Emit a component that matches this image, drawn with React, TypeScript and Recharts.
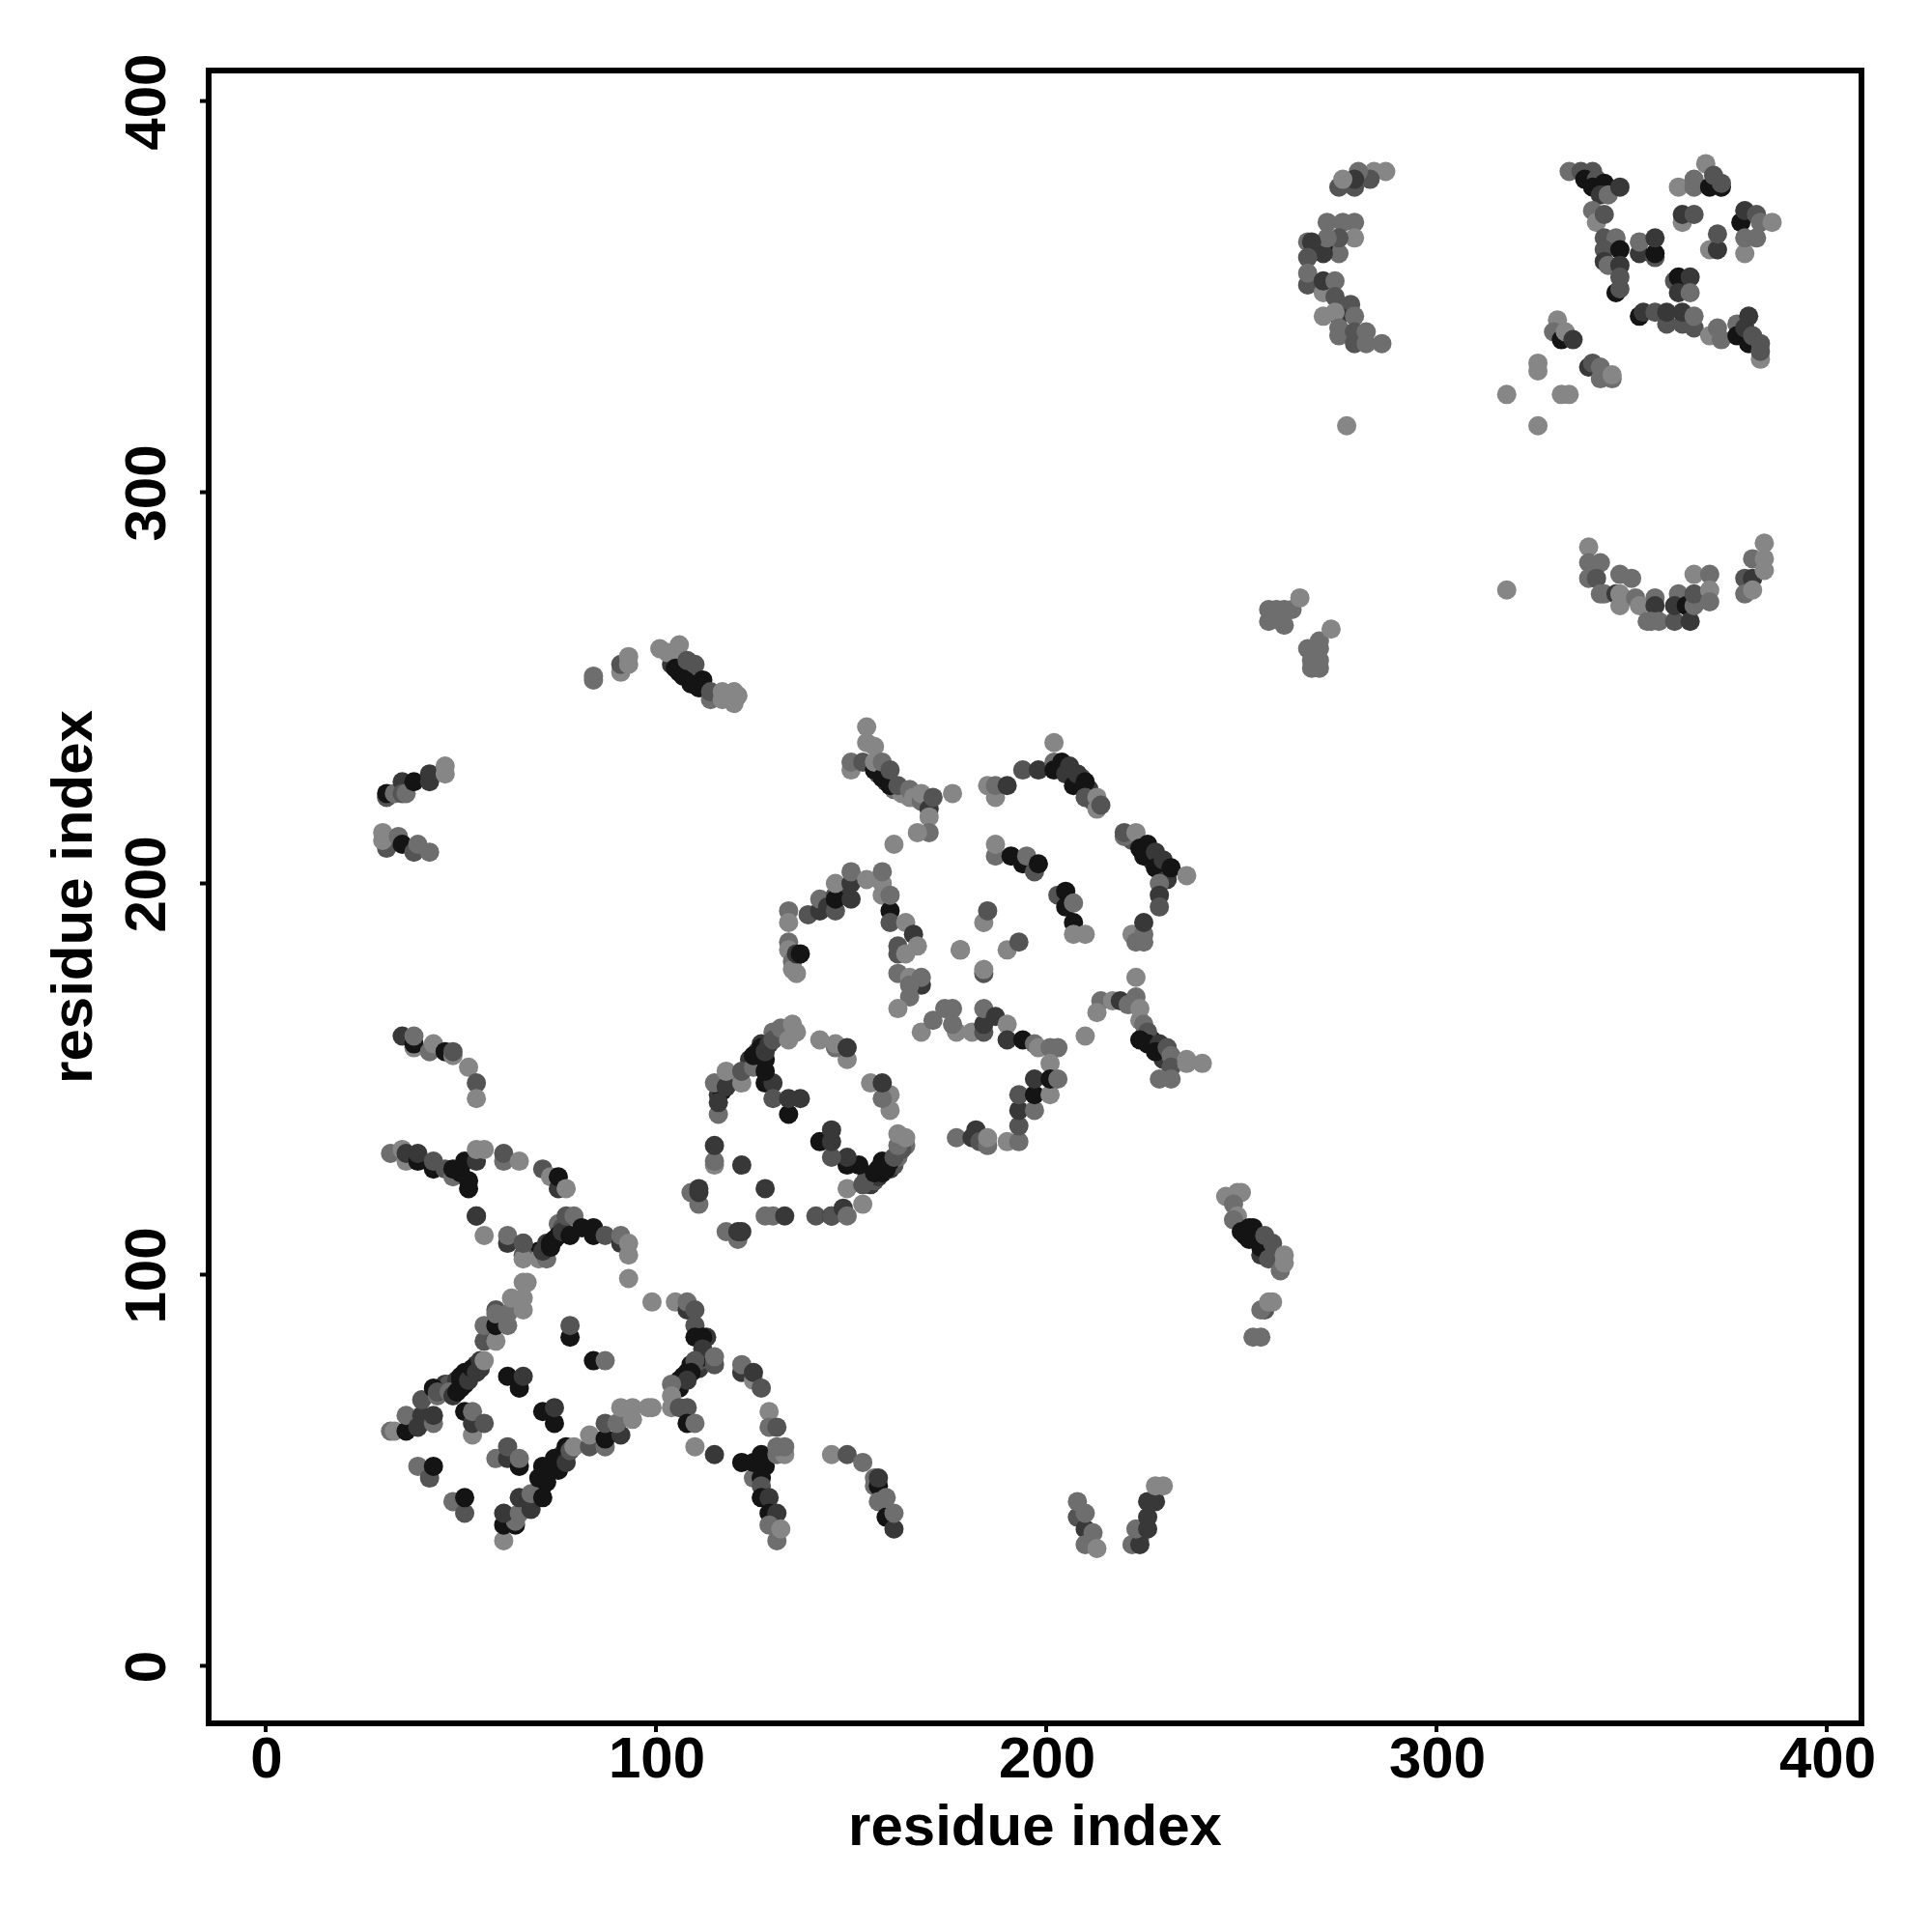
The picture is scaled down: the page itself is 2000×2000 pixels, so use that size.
import { ScatterChart, Scatter, XAxis, YAxis, ReferenceArea } from "recharts";

// each point is [residue x, residue y, contact level 0 (strong) .. 4 (weak)]
type Contact = [number, number, number];

const TICKS = [0, 100, 200, 300, 400];
const X_RANGE = [-14.6, 408.9];
const Y_RANGE = [-14.7, 407.8];
const LEVEL_COLORS = ["#141414", "#383838", "#545454", "#6e6e6e", "#868686"];

// tightly packed contacts along the dark bands, painted first
const denseBands: Contact[] = [
  [116, 146, 1], [117, 147, 0], [120, 150, 3], [124, 155, 1], [126, 157, 2], [127, 159, 1], [131, 161, 2], [130, 162, 3],
  [155, 123, 1], [156, 124, 2], [157, 125, 1], [158, 126, 0], [160, 127, 1], [161, 128, 2], [162, 130, 3], [164, 133, 3], [163, 134, 3],
  [63, 38, 1], [66, 40, 2], [69, 44, 1], [71, 46, 0], [72, 47, 0], [73, 50, 0], [75, 52, 0], [76, 54, 1],
  [46, 72, 1], [47, 72, 2], [49, 73, 1], [50, 74, 0], [51, 75, 0], [53, 75, 0], [54, 77, 1],
  [106, 72, 1], [107, 74, 0], [108, 75, 0], [109, 77, 0], [111, 76, 1], [111, 78, 2], [112, 79, 0], [113, 84, 1],
  [69, 105, 1], [70, 106, 0], [72, 108, 1], [74, 109, 0], [75, 113, 3], [76, 112, 2],
  [251, 110, 0], [254, 109, 0], [255, 105, 1], [258, 106, 3], [259, 104, 3],
  [104, 256, 1], [106, 254, 0], [108, 253, 1], [110, 253, 3], [112, 250, 0],
  [205, 229, 1], [207, 227, 0], [209, 227, 2], [211, 224, 1], [212, 221, 2],
  [222, 211, 2], [225, 208, 0], [227, 206, 1], [229, 205, 0], [231, 203, 1],
  [157, 228, 2], [159, 226, 1], [161, 224, 3], [163, 223, 4], [165, 222, 4],
  [225, 161, 2], [227, 160, 0], [229, 158, 1], [230, 156, 3], [230, 155, 1],
];

const leftOfCluster: Contact[] = [
  [134, 193, 3], [134, 190, 4], [134, 185, 3], [134, 183, 4], [135, 180, 3], [135, 178, 4], [136, 177, 4], [136, 182, 1], [137, 182, 0],
  [139, 192, 2], [142, 193, 1], [142, 196, 3], [144, 194, 1], [146, 197, 2], [148, 197, 1],
];

const lowerLeftEdge: Contact[] = [
  [32, 60, 3], [33, 60, 4], [36, 60, 0], [36, 64, 3], [39, 61, 1], [40, 64, 1], [40, 68, 2], [43, 62, 3], [43, 64, 1],
  [43, 71, 0], [44, 69, 3], [44, 70, 2], [47, 70, 3], [48, 69, 1], [49, 70, 0], [50, 71, 0], [50, 73, 0], [51, 72, 0],
  [52, 74, 0], [52, 73, 1], [53, 76, 0], [54, 75, 1], [55, 76, 1], [55, 78, 1], [56, 78, 4], [56, 83, 2], [59, 83, 4],
  [56, 87, 3], [59, 87, 0], [62, 87, 3], [59, 91, 2], [59, 90, 3], [62, 90, 3], [63, 94, 4], [66, 91, 4], [66, 94, 4],
  [66, 98, 4], [67, 98, 4],
];

const lowerTopEdge: Contact[] = [
  [54, 115, 1], [56, 110, 4], [62, 108, 1], [62, 110, 3], [66, 108, 1], [66, 105, 2], [66, 104, 4], [66, 108, 2], [70, 104, 4],
  [72, 104, 3], [71, 106, 1], [73, 107, 0], [73, 108, 0], [75, 110, 0], [76, 111, 1], [78, 110, 0], [77, 115, 2], [79, 115, 3],
  [81, 112, 0], [84, 110, 0], [84, 112, 0], [87, 110, 2], [91, 108, 1], [91, 110, 3], [93, 108, 4], [93, 105, 4], [93, 99, 4],
  [99, 93, 4], [105, 93, 4], [108, 91, 1], [108, 93, 3], [110, 91, 2], [110, 87, 2], [110, 84, 0], [112, 84, 0], [112, 81, 1],
];

const lowerRightEdge: Contact[] = [
  [115, 77, 2], [115, 79, 3], [110, 78, 2], [109, 75, 0], [106, 71, 0], [106, 73, 0], [108, 73, 1], [104, 72, 3], [104, 69, 4],
  [104, 66, 4], [106, 66, 2], [108, 66, 2], [108, 62, 0], [110, 62, 3], [110, 56, 4], [115, 54, 1], [122, 75, 1], [122, 77, 3],
  [125, 73, 4], [125, 75, 1], [127, 71, 2], [129, 65, 4], [129, 61, 3], [131, 61, 2], [125, 48, 3], [122, 52, 0], [125, 52, 0],
  [127, 54, 0], [128, 51, 0], [127, 48, 0], [127, 46, 2], [127, 43, 0], [129, 43, 1], [129, 39, 0], [131, 39, 1], [129, 36, 3],
  [131, 32, 3], [132, 35, 4], [131, 54, 3], [133, 54, 4], [131, 56, 3], [133, 56, 3],
];

const lowerDiagonal: Contact[] = [
  [61, 32, 4], [61, 36, 0], [64, 36, 0], [64, 37, 3], [61, 39, 1], [65, 39, 3], [68, 40, 1], [65, 43, 1], [68, 44, 3],
  [71, 43, 0], [70, 48, 0], [72, 49, 0], [71, 51, 0], [75, 50, 0], [74, 53, 0], [77, 52, 1], [77, 56, 0], [78, 55, 2],
  [79, 56, 4], [83, 56, 2], [83, 59, 4], [87, 56, 3], [87, 58, 0], [87, 62, 2], [91, 59, 1], [90, 62, 3], [94, 63, 4],
  [91, 66, 4], [94, 66, 4], [98, 66, 4], [99, 66, 4],
];

const lowerInner: Contact[] = [
  [78, 84, 0], [78, 87, 2], [84, 78, 0], [87, 78, 3], [62, 74, 0], [65, 71, 0], [66, 74, 1], [71, 65, 0], [74, 62, 0],
  [74, 66, 1], [51, 65, 0], [53, 59, 4], [53, 62, 1], [53, 65, 3], [56, 62, 2], [59, 53, 3], [62, 53, 1], [62, 56, 2],
  [65, 51, 0], [65, 53, 3], [39, 51, 3], [42, 48, 2], [43, 51, 0], [48, 42, 3], [51, 39, 2], [51, 43, 0],
];

const upperStrip: Contact[] = [
  [35, 161, 1], [38, 158, 4], [38, 159, 0], [38, 161, 3], [42, 157, 3], [43, 159, 4], [46, 157, 0], [48, 156, 4], [48, 157, 2],
  [52, 153, 4], [54, 149, 2], [54, 145, 4],
];

const middleStrip: Contact[] = [
  [32, 131, 3], [35, 132, 4], [36, 129, 4], [36, 131, 1], [39, 129, 0], [39, 131, 1], [43, 127, 0], [43, 129, 2], [46, 127, 2],
  [48, 125, 3], [48, 127, 0], [50, 126, 0], [52, 122, 0], [52, 124, 0], [51, 129, 0], [54, 129, 1], [54, 132, 4], [56, 132, 4],
  [61, 129, 3], [61, 131, 2], [65, 129, 4], [71, 127, 2], [73, 125, 4], [75, 122, 1], [75, 125, 0], [77, 122, 4], [54, 115, 1],
];

const topLeftStrips: Contact[] = [
  [31, 222, 2], [31, 223, 0], [33, 223, 3], [35, 226, 1], [35, 223, 2], [36, 223, 3], [38, 226, 0], [42, 226, 1], [42, 228, 1],
  [46, 228, 4], [46, 230, 4], [31, 209, 2], [30, 211, 4], [30, 213, 4], [34, 212, 3], [35, 210, 0], [38, 208, 2], [39, 210, 3],
  [42, 208, 3],
];

const topMiddleStrip: Contact[] = [
  [84, 252, 3], [84, 253, 3], [91, 254, 4], [91, 256, 2], [93, 256, 4], [93, 258, 4], [101, 260, 4], [103, 259, 4], [106, 261, 4],
  [106, 258, 4], [105, 255, 0], [107, 253, 0], [108, 257, 2], [109, 251, 0], [110, 256, 2], [111, 250, 0], [112, 252, 0], [114, 247, 3],
  [114, 249, 2], [117, 247, 4], [117, 249, 4], [120, 246, 4], [120, 249, 4], [121, 248, 4],
];

const centerRing: Contact[] = [
  [109, 121, 3], [111, 118, 3], [111, 121, 1], [111, 122, 1], [115, 128, 4], [115, 129, 3], [115, 133, 1], [122, 128, 1], [128, 122, 1],
  [118, 111, 3], [121, 109, 3], [121, 111, 1], [122, 111, 1], [128, 115, 3], [130, 115, 3], [133, 115, 1], [141, 115, 2], [145, 115, 0],
  [145, 115, 2], [148, 117, 1], [149, 115, 3], [153, 118, 4], [149, 122, 4], [153, 123, 2], [154, 125, 2], [156, 126, 0], [157, 127, 0],
  [158, 129, 0], [159, 127, 0], [160, 129, 0], [161, 130, 2], [163, 132, 2], [162, 133, 3], [162, 136, 4], [164, 135, 4], [152, 128, 0],
  [149, 128, 0], [149, 130, 1], [145, 130, 2], [142, 134, 0], [145, 134, 1], [145, 137, 1],
];

const centerArc: Contact[] = [
  [160, 142, 4], [160, 146, 4], [158, 145, 3], [155, 149, 4], [158, 149, 1], [149, 155, 4], [146, 158, 3], [146, 159, 4], [142, 160, 4],
  [149, 158, 1], [116, 141, 3], [116, 144, 1], [115, 149, 3], [118, 148, 1], [118, 152, 4], [122, 149, 4], [122, 152, 2], [125, 153, 3],
  [128, 149, 0], [130, 149, 1], [130, 145, 2], [134, 141, 0], [134, 145, 1], [137, 145, 1], [125, 156, 0], [128, 152, 0], [128, 155, 0],
  [127, 158, 0], [128, 157, 1], [129, 159, 1], [130, 160, 2], [132, 163, 3], [134, 160, 4], [135, 164, 4], [136, 162, 4],
];

const midLowerBand: Contact[] = [
  [168, 162, 4], [171, 165, 3], [174, 168, 3], [176, 168, 3], [177, 162, 4], [176, 164, 3], [181, 162, 4], [184, 162, 2], [184, 164, 1],
  [184, 168, 3], [187, 166, 1], [190, 164, 4], [190, 160, 1], [194, 160, 0], [197, 159, 3], [198, 158, 4], [201, 158, 3], [203, 158, 3],
  [201, 154, 4], [177, 135, 3], [181, 135, 1], [182, 137, 1], [183, 134, 2], [185, 133, 3], [185, 135, 4], [190, 134, 4], [193, 134, 3],
  [193, 138, 2], [193, 142, 1], [197, 142, 3], [193, 146, 2], [197, 146, 0], [201, 146, 4], [197, 150, 1], [201, 150, 0], [203, 150, 3],
];

const midRightBand: Contact[] = [
  [223, 176, 4], [214, 170, 3], [213, 167, 4], [217, 170, 4], [219, 170, 1], [221, 169, 3], [223, 171, 3], [224, 168, 4], [210, 161, 4],
  [224, 165, 4], [225, 164, 3], [226, 162, 2], [224, 160, 0], [226, 159, 0], [229, 159, 1], [228, 157, 0], [231, 158, 2], [232, 156, 3],
  [232, 153, 2], [229, 150, 3], [232, 150, 3], [236, 154, 4], [236, 155, 4], [240, 154, 4],
];

const clusterTwoLeft: Contact[] = [
  [154, 240, 4], [154, 236, 4], [156, 235, 4], [150, 229, 4], [150, 231, 3], [153, 231, 2], [156, 229, 0], [156, 231, 4], [158, 227, 0],
  [158, 231, 3], [160, 225, 0], [160, 229, 2], [162, 225, 2], [165, 224, 3], [166, 222, 4], [168, 221, 3], [168, 223, 4], [170, 219, 1],
  [171, 222, 2], [170, 217, 4], [170, 213, 3], [167, 213, 4], [176, 223, 4], [161, 210, 4],
];

const clusterTwoTop: Contact[] = [
  [185, 225, 4], [187, 222, 4], [187, 225, 3], [190, 225, 1], [194, 229, 2], [198, 229, 1], [202, 236, 4], [202, 231, 3], [202, 229, 0],
  [204, 231, 0], [205, 228, 1], [206, 230, 1], [207, 225, 0], [208, 228, 1], [210, 226, 0], [210, 222, 2], [213, 222, 4], [213, 219, 4],
  [214, 220, 2], [220, 212, 3], [220, 213, 2], [223, 213, 4], [224, 209, 0], [226, 210, 0], [225, 207, 0], [228, 208, 1], [228, 204, 0],
  [230, 206, 1], [231, 201, 1], [232, 204, 0], [236, 202, 4], [229, 200, 3], [229, 197, 1], [229, 194, 2], [222, 187, 4], [223, 185, 3],
  [225, 185, 3], [225, 187, 3], [225, 190, 1],
];

const clusterTwoInner: Contact[] = [
  [187, 207, 3], [187, 210, 4], [191, 207, 0], [194, 205, 0], [195, 207, 3], [197, 203, 2], [198, 205, 0], [203, 197, 2], [205, 194, 0],
  [205, 198, 0], [207, 190, 0], [207, 187, 4], [210, 187, 4], [207, 195, 3], [184, 190, 4], [185, 193, 2], [178, 183, 2], [178, 183, 4],
  [190, 183, 4], [193, 185, 2], [184, 177, 2], [184, 178, 4],
];

const clusterTwoSide: Contact[] = [
  [146, 193, 2], [146, 196, 0], [146, 200, 4], [150, 196, 1], [150, 200, 1], [150, 203, 3], [154, 201, 4], [158, 197, 4], [158, 200, 4],
  [158, 203, 3], [160, 193, 0], [160, 197, 3], [160, 190, 2], [162, 182, 2], [162, 184, 2], [164, 190, 4], [166, 187, 1], [164, 182, 4],
  [167, 184, 4], [162, 177, 3], [165, 176, 4], [168, 174, 1], [168, 176, 3], [165, 174, 3], [165, 171, 3], [162, 168, 4],
];

const rightDiagonal: Contact[] = [
  [246, 120, 4], [249, 121, 4], [250, 121, 4], [248, 118, 3], [249, 115, 4], [248, 114, 3], [250, 111, 0], [252, 109, 0], [252, 112, 0],
  [253, 112, 0], [255, 107, 0], [256, 110, 2], [258, 108, 2], [257, 104, 2], [260, 101, 3], [261, 103, 4], [261, 105, 4], [256, 91, 2],
  [255, 91, 3], [257, 93, 4], [258, 93, 4], [253, 84, 3], [255, 84, 3],
];

const bottomStrips: Contact[] = [
  [145, 54, 4], [149, 54, 2], [153, 52, 3], [156, 46, 3], [156, 48, 3], [157, 46, 0], [157, 48, 1], [157, 42, 3], [159, 38, 0],
  [159, 43, 3], [161, 35, 1], [161, 39, 3], [208, 38, 2], [208, 42, 3], [210, 35, 1], [210, 39, 3], [210, 31, 3], [212, 34, 3],
  [213, 30, 4], [222, 31, 3], [224, 33, 3], [224, 31, 1], [223, 35, 3], [226, 35, 1], [226, 38, 1], [226, 42, 1], [228, 42, 1],
  [228, 46, 4], [230, 46, 4],
];

const upperPatch: Contact[] = [
  [257, 267, 3], [257, 270, 3], [259, 270, 3], [261, 266, 3], [261, 270, 3], [263, 270, 3], [265, 273, 4], [270, 262, 3], [267, 260, 3],
  [270, 260, 3], [268, 257, 3], [270, 257, 3], [268, 255, 3], [270, 255, 3], [273, 265, 4], [318, 275, 4],
];

const upperArc: Contact[] = [
  [339, 286, 4], [339, 278, 3], [339, 282, 3], [342, 282, 3], [341, 278, 2], [342, 274, 3], [343, 274, 3], [347, 279, 3], [346, 274, 1],
  [347, 274, 4], [350, 278, 3], [347, 271, 4], [351, 273, 3], [352, 271, 4], [356, 273, 3], [356, 271, 1], [354, 267, 3], [355, 267, 3],
  [357, 267, 3], [361, 267, 2], [362, 274, 3], [361, 271, 1], [364, 271, 0], [365, 267, 1], [366, 271, 3], [366, 274, 2], [366, 279, 4],
  [370, 279, 3], [370, 275, 4], [370, 272, 3], [379, 278, 2], [381, 278, 1], [379, 274, 3], [381, 275, 4], [381, 283, 3], [384, 280, 4],
  [384, 283, 4], [384, 287, 4],
];

const topCrescent: Contact[] = [
  [287, 382, 4], [284, 382, 4], [283, 380, 2], [280, 382, 3], [279, 378, 2], [279, 380, 1], [275, 378, 2], [276, 380, 4], [272, 369, 3],
  [276, 369, 3], [279, 369, 3], [279, 365, 4], [275, 361, 3], [275, 365, 2], [271, 363, 0], [271, 361, 1], [272, 365, 3], [267, 364, 3],
  [268, 364, 1], [267, 360, 2], [267, 353, 2], [267, 356, 3], [271, 351, 4], [271, 354, 1], [274, 354, 3], [274, 350, 2], [278, 348, 2],
  [275, 345, 1], [271, 345, 4], [274, 346, 4], [279, 345, 3], [275, 340, 3], [275, 342, 3], [279, 338, 2], [279, 341, 2], [282, 338, 3],
  [282, 341, 3], [286, 338, 3], [277, 317, 4],
];

const topRightCross: Contact[] = [
  [334, 382, 3], [337, 382, 2], [340, 382, 2], [338, 380, 0], [341, 380, 2], [340, 378, 0], [343, 379, 0], [342, 376, 1], [344, 376, 3],
  [347, 378, 1], [340, 372, 3], [341, 369, 4], [343, 371, 2], [343, 365, 2], [346, 365, 3], [343, 362, 2], [343, 359, 1], [344, 358, 3],
  [347, 362, 0], [347, 358, 1], [347, 355, 2], [346, 351, 0], [347, 352, 2], [352, 361, 1], [352, 364, 3], [356, 360, 2], [356, 361, 0],
  [356, 365, 1], [361, 354, 2], [362, 355, 0], [365, 355, 1], [362, 351, 1], [365, 351, 3], [352, 345, 0], [353, 346, 1], [356, 346, 2],
  [359, 343, 2], [359, 346, 1], [363, 343, 2], [363, 346, 1], [366, 342, 2], [366, 345, 3], [370, 340, 4], [373, 339, 3], [372, 342, 3],
  [377, 343, 3], [377, 340, 0], [380, 338, 0], [379, 342, 1], [380, 345, 1], [381, 340, 2], [383, 334, 4], [383, 336, 2], [383, 338, 2],
];

const topRightCorner: Contact[] = [
  [369, 384, 4], [362, 378, 4], [366, 378, 3], [366, 380, 3], [370, 378, 0], [373, 378, 0], [371, 381, 2], [373, 379, 2], [363, 369, 4],
  [363, 371, 1], [366, 371, 2], [370, 362, 4], [372, 362, 1], [372, 366, 2], [378, 369, 0], [379, 372, 1], [382, 371, 2], [379, 361, 4],
  [379, 365, 3], [382, 365, 3], [383, 369, 3], [386, 369, 4],
];

const topRightScatter: Contact[] = [
  [331, 344, 4], [330, 341, 3], [332, 339, 0], [333, 341, 4], [335, 339, 1], [326, 331, 4], [326, 333, 4], [318, 325, 4], [332, 325, 4],
  [334, 325, 4], [326, 317, 4], [339, 332, 1], [340, 333, 2], [342, 329, 3], [342, 332, 3], [345, 329, 3], [345, 330, 4],
];

const toRows = (points: Contact[]) => points.map(([x, y, level]) => ({ x, y, level }));

const rows = [
  denseBands, leftOfCluster, lowerLeftEdge, lowerTopEdge, lowerRightEdge, lowerDiagonal, lowerInner, upperStrip, middleStrip, topLeftStrips,
  topMiddleStrip, centerRing, centerArc, midLowerBand, midRightBand, clusterTwoLeft, clusterTwoTop, clusterTwoInner, clusterTwoSide,
  rightDiagonal, bottomStrips, upperPatch, upperArc, topCrescent, topRightCross, topRightCorner, topRightScatter,
].flatMap(toRows);

const FONT = "Liberation Sans, Arial, sans-serif";

const textStyle = { fontFamily: FONT, fontWeight: 700, fontSize: 60, fill: "#000" };

function XTick({ x, y, payload }: any) {
  return (
    <text x={x + 1} y={y + 47} textAnchor="middle" style={textStyle}>
      {payload.value}
    </text>
  );
}

function YTick({ x, y, payload }: any) {
  return (
    <text transform={`translate(${x - 36},${y + 1}) rotate(-90)`} textAnchor="middle" style={textStyle}>
      {payload.value}
    </text>
  );
}

function ContactDot({ cx, cy, payload }: any) {
  return <circle cx={cx} cy={cy} r={10} fill={LEVEL_COLORS[payload.level]} />;
}

export default function App() {
  return (
    <div style={{ position: "absolute", left: 0, top: 0, background: "#fff" }}>
      <ScatterChart width={2000} height={2000} margin={{ top: 73, right: 73, bottom: 0, left: 0 }}>
        <XAxis
          type="number"
          dataKey="x"
          domain={X_RANGE}
          ticks={TICKS}
          height={216}
          axisLine={false}
          tickLine={{ stroke: "#000", strokeWidth: 4 }}
          tickSize={9}
          tickMargin={0}
          tick={<XTick />}
          interval={0}
          label={{ value: "residue index", position: "insideBottom", offset: 90, style: textStyle }}
        />
        <YAxis
          type="number"
          dataKey="y"
          domain={Y_RANGE}
          ticks={TICKS}
          width={216}
          axisLine={false}
          tickLine={{ stroke: "#000", strokeWidth: 4 }}
          tickSize={9}
          tickMargin={0}
          tick={<YTick />}
          interval={0}
          label={{ value: "residue index", angle: -90, position: "insideLeft", offset: 74, style: { ...textStyle, textAnchor: "middle" } }}
        />
        <ReferenceArea
          x1={X_RANGE[0]}
          x2={X_RANGE[1]}
          y1={Y_RANGE[0]}
          y2={Y_RANGE[1]}
          fill="none"
          stroke="#000"
          strokeWidth={6}
          ifOverflow="visible"
        />
        <Scatter data={rows} shape={<ContactDot />} isAnimationActive={false} />
      </ScatterChart>
    </div>
  );
}
